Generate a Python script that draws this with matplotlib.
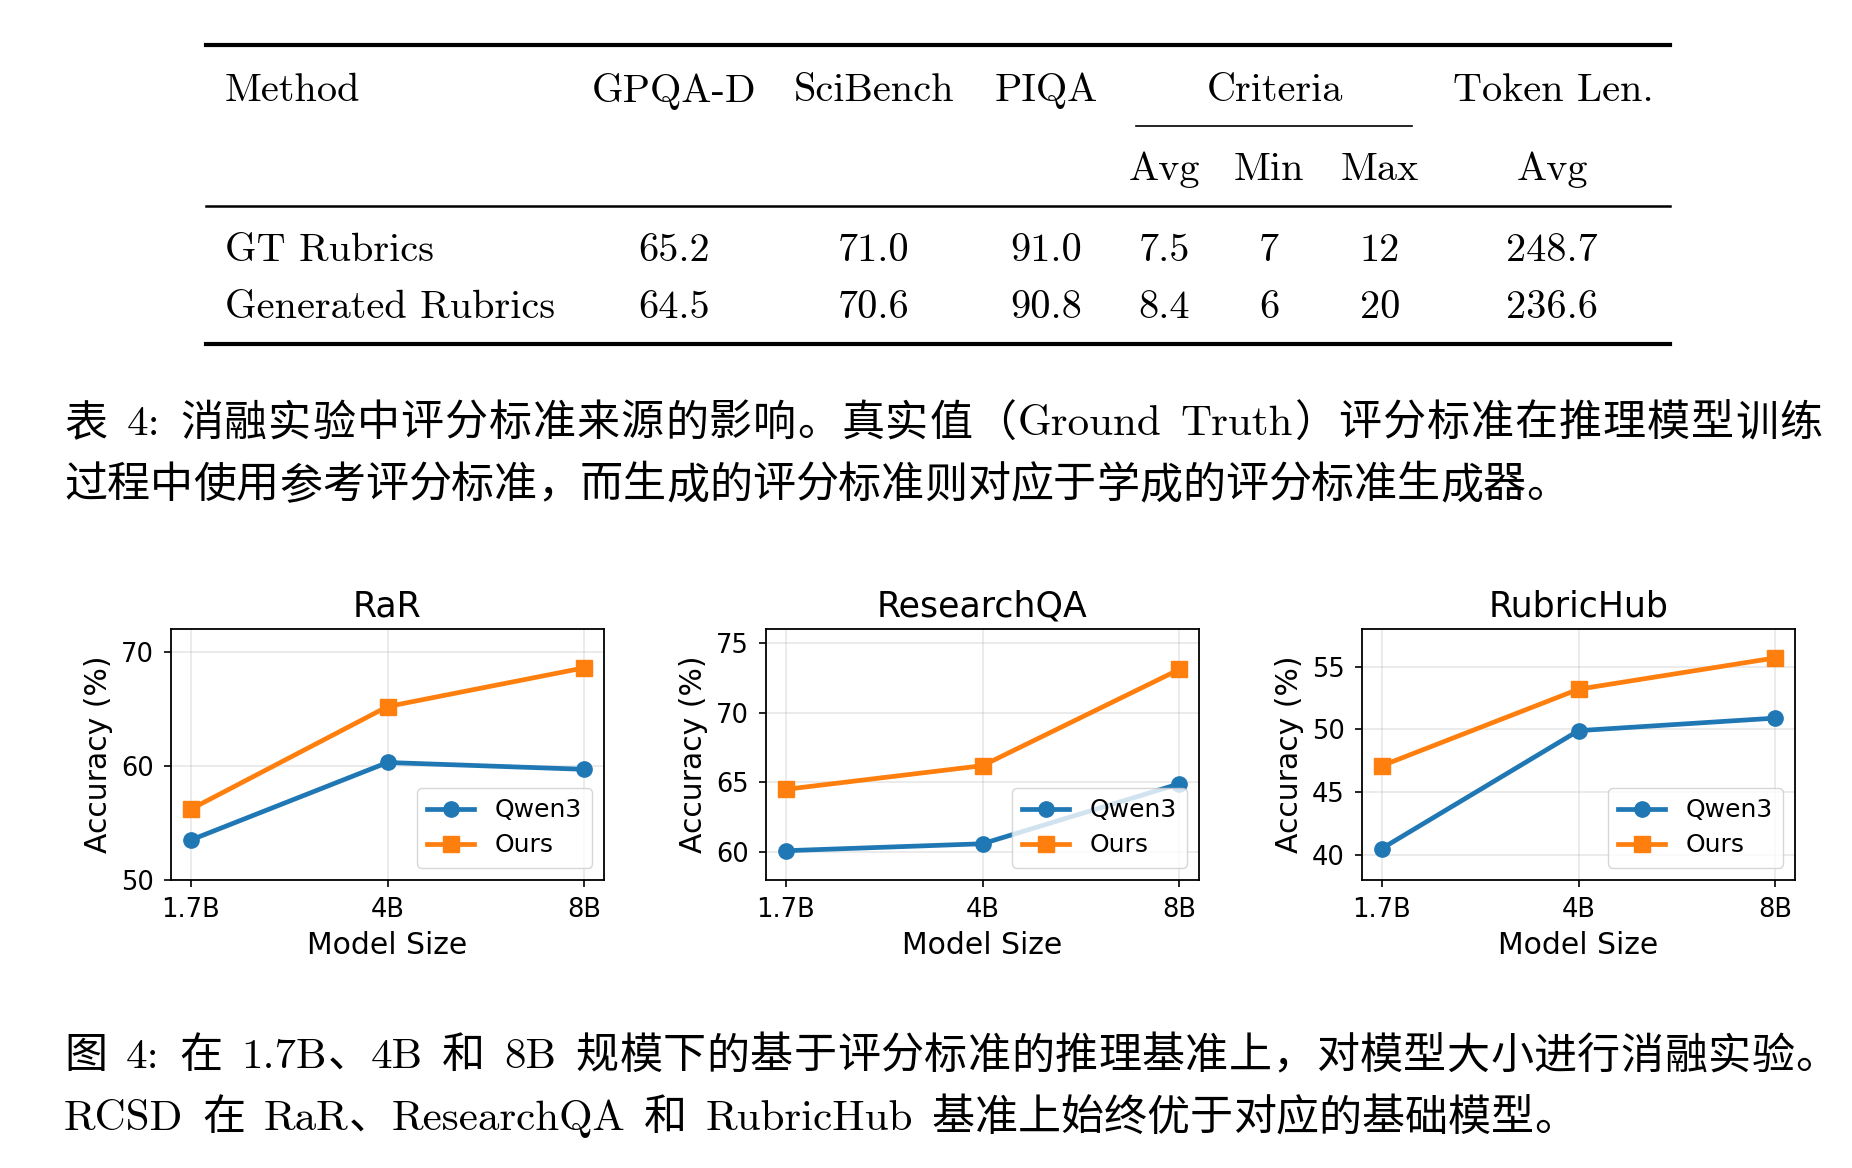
import re
import matplotlib
matplotlib.use("Agg")
import matplotlib.pyplot as plt

# ---- table data ----
methods = ["GT Rubrics", "Generated Rubrics"]
gpqa_d = ["65.2", "64.5"]
scibench = ["71.0", "70.6"]
piqa = ["91.0", "90.8"]
crit_avg = ["7.5", "8.4"]
crit_min = ["7", "6"]
crit_max = ["12", "20"]
token_avg = ["248.7", "236.6"]

# ---- plot data ----
sizes = ["1.7B", "4B", "8B"]
benchmarks = ["RaR", "ResearchQA", "RubricHub"]
qwen3 = {"RaR": [53.5, 60.3, 59.7],
         "ResearchQA": [60.1, 60.6, 64.9],
         "RubricHub": [40.5, 49.9, 50.9]}
ours = {"RaR": [56.2, 65.2, 68.6],
        "ResearchQA": [64.5, 66.2, 73.1],
        "RubricHub": [47.1, 53.2, 55.7]}
ylims = {"RaR": (50, 72), "ResearchQA": (58, 76), "RubricHub": (38, 58)}
yticks = {"RaR": [50, 60, 70], "ResearchQA": [60, 65, 70, 75], "RubricHub": [40, 45, 50, 55]}

cap1 = ["表 4: 消融实验中评分标准来源的影响。真实值（Ground Truth）评分标准在推理模型训练",
        "过程中使用参考评分标准，而生成的评分标准则对应于学成的评分标准生成器。"]
cap2 = ["图 4: 在 1.7B、4B 和 8B 规模下的基于评分标准的推理基准上，对模型大小进行消融实验。",
        "RCSD 在 RaR、ResearchQA 和 RubricHub 基准上始终优于对应的基础模型。"]

W, H = 1852, 1168
fig = plt.figure(figsize=(W / 100, H / 100), dpi=100)

serif = ["cmr10", "Noto Sans CJK SC"]

# overlay axes in pixel coordinates for the table and captions
tab = fig.add_axes([0, 0, 1, 1])
tab.set_xlim(0, W)
tab.set_ylim(H, 0)
tab.axis("off")

fs_tab = 29
# rules
tab.plot([206, 1670], [45, 45], color="black", lw=3)
tab.plot([1136, 1412], [126, 126], color="black", lw=1.2)
tab.plot([206, 1670], [206, 206], color="black", lw=1.8)
tab.plot([206, 1670], [344, 344], color="black", lw=3)

col_x = [674, 874, 1046, 1164, 1269, 1380, 1552]
header1 = ["GPQA-D", "SciBench", "PIQA"]
y_h1, y_h2 = 91, 170
tab.text(225, y_h1, "Method", family=serif, fontsize=fs_tab, va="center", ha="left")
for x, h in zip(col_x[:3], header1):
    tab.text(x, y_h1, h, family=serif, fontsize=fs_tab, va="center", ha="center")
tab.text(1275, y_h1, "Criteria", family=serif, fontsize=fs_tab, va="center", ha="center")
tab.text(1553, y_h1, "Token Len.", family=serif, fontsize=fs_tab, va="center", ha="center")
for x, h in zip(col_x[3:], ["Avg", "Min", "Max", "Avg"]):
    tab.text(x, y_h2, h, family=serif, fontsize=fs_tab, va="center", ha="center")

rows_y = [251, 308]
for i, y in enumerate(rows_y):
    tab.text(225, y, methods[i], family=serif, fontsize=fs_tab, va="center", ha="left")
    vals = [gpqa_d[i], scibench[i], piqa[i], crit_avg[i], crit_min[i], crit_max[i], token_avg[i]]
    for x, v in zip(col_x, vals):
        tab.text(x, y, v, family=serif, fontsize=fs_tab, va="center", ha="center")

renderer = fig.canvas.get_renderer()


def text_width(s, fs):
    t = tab.text(0, 0, s, family=serif, fontsize=fs)
    w = t.get_window_extent(renderer).width
    t.remove()
    return w


def draw_line(text, x0, y, fs, x1=None):
    # split into latin words and single CJK chars, stretch gaps to reach x1
    tokens = re.findall(r"[A-Za-z0-9.:]+|\s+|[^\sA-Za-z0-9.:]", text)
    items = []
    space_before = False
    for tk in tokens:
        if tk.isspace():
            space_before = True
            continue
        items.append((tk, space_before))
        space_before = False
    widths = [text_width(tk, fs) for tk, _ in items]
    spw = text_width("a a", fs) - 2 * text_width("a", fs)
    gaps = [spw * 1.3 if sb else 0.0 for _, sb in items[1:]]
    extra = 0.0
    if x1 is not None and len(items) > 1:
        extra = (x1 - x0 - sum(widths) - sum(gaps)) / (len(items) - 1)
    x = x0
    for k, (tk, _) in enumerate(items):
        tab.text(x, y, tk, family=serif, fontsize=fs, va="center", ha="left")
        x += widths[k]
        if k < len(gaps):
            x += gaps[k] + extra


fs_cap = 31
draw_line(cap1[0], 64, 424, fs_cap, 1822)
draw_line(cap1[1], 64, 486, fs_cap)
draw_line(cap2[0], 64, 1057, fs_cap, 1838)
draw_line(cap2[1], 64, 1119, fs_cap)

# ---- subplots ----
lefts = [171, 766, 1362]
ax_w = 433
ax_top, ax_bot = 629, 880
x = list(range(len(sizes)))
for b, left in zip(benchmarks, lefts):
    ax = fig.add_axes([left / W, 1 - ax_bot / H, ax_w / W, (ax_bot - ax_top) / H])
    ax.plot(x, qwen3[b], marker="o", color="#1f77b4", lw=3.4, markersize=11, label="Qwen3")
    ax.plot(x, ours[b], marker="s", color="#ff7f0e", lw=3.4, markersize=11, label="Ours")
    ax.set_xticks(x)
    ax.set_xticklabels(sizes)
    ax.set_xlim(-0.1, 2.1)
    ax.set_ylim(*ylims[b])
    ax.set_yticks(yticks[b])
    ax.grid(True, alpha=0.3, lw=1.2)
    ax.set_title(b, fontsize=25, pad=9)
    ax.set_xlabel("Model Size", fontsize=21.5, labelpad=6)
    ax.set_ylabel("Accuracy (%)", fontsize=21.5, labelpad=6)
    ax.tick_params(labelsize=18.5, length=5.25, width=1.2, pad=7)
    for s in ax.spines.values():
        s.set_linewidth(1.3)
    ax.legend(loc="lower right", fontsize=18, borderaxespad=0.5,
              handlelength=1.9, labelspacing=0.45)

fig.savefig("out.png", dpi=100)
